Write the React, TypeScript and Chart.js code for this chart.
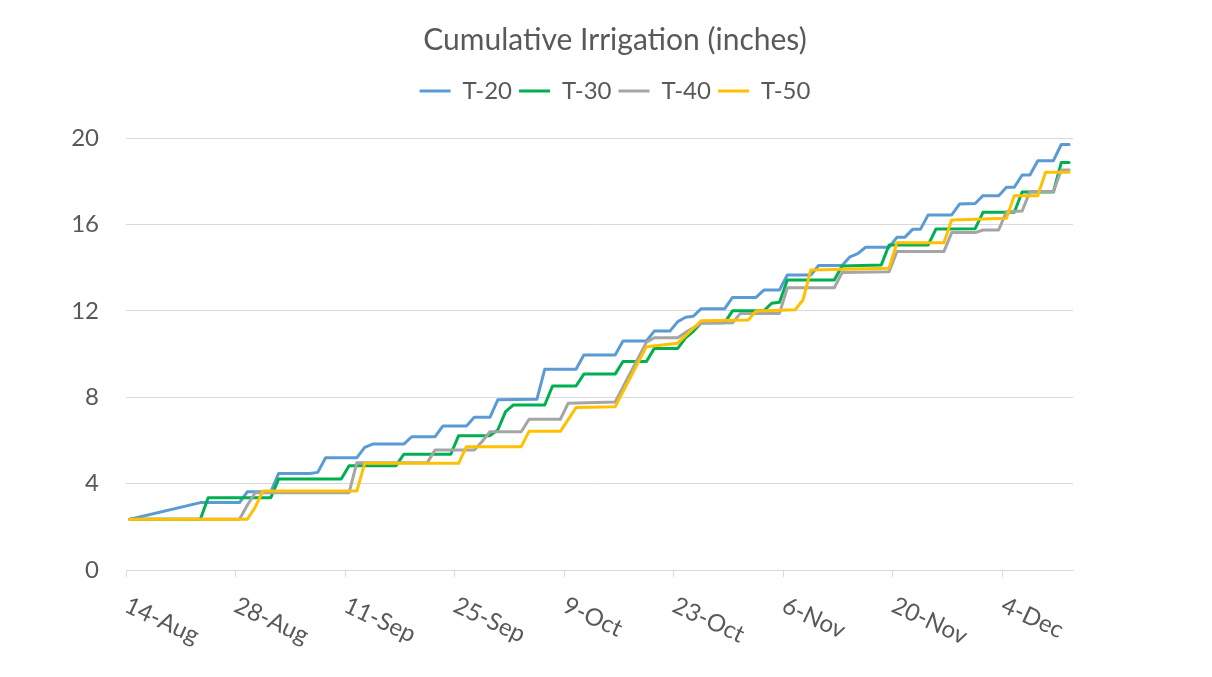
import React, { useEffect, useRef } from 'react';
import { Chart, registerables } from 'chart.js';

Chart.register(...registerables);

const chartTitle = 'Cumulative Irrigation (inches)';
const seriesNames = ['T-20', 'T-30', 'T-40', 'T-50'];
const seriesColors = ['#5B9BD5', '#00B050', '#A5A5A5', '#FFC000'];
const xTickLabels = ['14-Aug', '28-Aug', '11-Sep', '25-Sep', '9-Oct', '23-Oct', '6-Nov', '20-Nov', '4-Dec'];
const yTickStep = 4;

// days since 14-Aug
const t20Days = [0, 9, 14, 15, 18, 19, 23, 24, 25, 29, 30, 31, 35, 36, 39, 40, 43, 44, 46, 47, 52, 53, 57, 58, 62, 63, 66, 67, 69, 70, 71, 72, 73, 76, 77, 80, 81, 83, 84, 87, 88, 91, 92, 93, 94, 97, 98, 99, 100, 101, 102, 105, 106, 108, 109, 111, 112, 113, 114, 115, 116, 118, 119, 120];
const t20Values = [2.35, 3.12, 3.12, 3.62, 3.62, 4.47, 4.47, 4.52, 5.2, 5.2, 5.68, 5.83, 5.83, 6.17, 6.17, 6.67, 6.67, 7.07, 7.07, 7.88, 7.9, 9.29, 9.29, 9.95, 9.95, 10.6, 10.6, 11.06, 11.06, 11.5, 11.7, 11.75, 12.1, 12.1, 12.62, 12.62, 12.96, 12.96, 13.66, 13.66, 14.1, 14.1, 14.5, 14.65, 14.94, 14.94, 15.4, 15.4, 15.77, 15.77, 16.44, 16.44, 16.94, 16.97, 17.33, 17.33, 17.72, 17.72, 18.29, 18.29, 18.95, 18.95, 19.7, 19.7];

const t30Days = [0, 9, 10, 18, 19, 27, 28, 34, 35, 41, 42, 46, 47, 48, 49, 53, 54, 57, 58, 62, 63, 66, 67, 70, 71, 72, 73, 76, 77, 81, 82, 83, 84, 90, 91, 96, 97, 102, 103, 108, 109, 113, 114, 118, 119, 120];
const t30Values = [2.35, 2.35, 3.35, 3.35, 4.21, 4.21, 4.83, 4.83, 5.36, 5.36, 6.22, 6.22, 6.48, 7.33, 7.64, 7.64, 8.52, 8.52, 9.07, 9.07, 9.65, 9.65, 10.26, 10.26, 10.75, 11.05, 11.45, 11.45, 12.0, 12.0, 12.35, 12.4, 13.43, 13.43, 14.07, 14.12, 15.05, 15.05, 15.79, 15.8, 16.56, 16.56, 17.5, 17.5, 18.86, 18.86];

const t40Days = [0, 14, 15, 16, 28, 29, 38, 39, 44, 45, 46, 50, 51, 55, 56, 62, 66, 67, 70, 71, 73, 77, 78, 83, 84, 90, 91, 97, 98, 104, 105, 108, 109, 111, 112, 114, 115, 118, 119, 120];
const t40Values = [2.35, 2.35, 3.0, 3.58, 3.58, 4.97, 4.97, 5.56, 5.56, 5.95, 6.4, 6.4, 6.98, 6.98, 7.72, 7.78, 10.55, 10.75, 10.75, 11.0, 11.42, 11.45, 11.88, 11.88, 13.07, 13.07, 13.77, 13.81, 14.74, 14.74, 15.62, 15.62, 15.74, 15.74, 16.59, 16.62, 17.52, 17.52, 18.52, 18.52];

const t50Days = [0, 15, 16, 17, 29, 30, 42, 43, 50, 51, 55, 57, 62, 66, 70, 73, 79, 80, 85, 86, 87, 97, 98, 104, 105, 112, 113, 116, 117, 120];
const t50Values = [2.35, 2.35, 2.9, 3.66, 3.66, 4.94, 4.94, 5.71, 5.71, 6.42, 6.42, 7.52, 7.56, 10.34, 10.5, 11.54, 11.57, 11.99, 12.05, 12.5, 13.89, 13.97, 15.15, 15.15, 16.2, 16.28, 17.33, 17.33, 18.42, 18.42];

const seriesDays = [t20Days, t30Days, t40Days, t50Days];
const seriesValues = [t20Values, t30Values, t40Values, t50Values];

const TEXT_COLOR = '#595959';
const GRID_COLOR = '#d9d9d9';
const FONT = 'Lato';

const xLabelPlugin = {
  id: 'rotatedXLabels',
  afterDraw(chart: any) {
    const { ctx, chartArea } = chart;
    const xs = chart.scales.x;
    ctx.save();
    ctx.font = `24px ${FONT}`;
    ctx.fillStyle = TEXT_COLOR;
    ctx.textAlign = 'left';
    ctx.textBaseline = 'alphabetic';
    xs.ticks.forEach((t: any, i: number) => {
      const px = xs.getPixelForValue(t.value);
      ctx.save();
      ctx.translate(px - 3, chartArea.bottom + 41);
      ctx.rotate((25 * Math.PI) / 180);
      ctx.fillText(xTickLabels[i] ?? '', 0, 0);
      ctx.restore();
    });
    ctx.restore();
  },
};

export default function App() {
  const ref = useRef<HTMLCanvasElement>(null);

  useEffect(() => {
    if (!ref.current) return;
    Chart.defaults.font.family = FONT;
    const datasets = seriesNames.map((name, i) => ({
      label: name,
      data: seriesDays[i].map((d, j) => ({ x: d, y: seriesValues[i][j] })),
      borderColor: seriesColors[i],
      backgroundColor: seriesColors[i],
      borderWidth: 3,
      pointRadius: 0,
      pointHoverRadius: 0,
      tension: 0,
      fill: false,
      borderJoinStyle: 'round' as const,
      borderCapStyle: 'round' as const,
      order: seriesNames.length - 1 - i,
    }));

    const chart = new Chart(ref.current, {
      type: 'line',
      data: { datasets },
      plugins: [xLabelPlugin],
      options: {
        animation: false,
        responsive: false,
        maintainAspectRatio: false,
        devicePixelRatio: 1,
        layout: { padding: { left: 18, right: 0, top: 0, bottom: 0 } },
        plugins: {
          tooltip: { enabled: false },
          title: {
            display: true,
            text: chartTitle,
            color: TEXT_COLOR,
            font: { family: FONT, size: 30, weight: 'normal' },
            padding: { top: 22, bottom: 14 },
          },
          legend: {
            display: true,
            position: 'top',
            labels: {
              usePointStyle: true,
              pointStyle: 'line',
              pointStyleWidth: 31,
              color: TEXT_COLOR,
              font: { family: FONT, size: 24 },
              padding: 7,
              sort: (a: any, b: any) => a.datasetIndex - b.datasetIndex,
            },
          },
        },
        scales: {
          x: {
            type: 'linear',
            min: -0.5,
            max: 120.5,
            afterBuildTicks: (scale: any) => {
              scale.ticks = xTickLabels.map((_, i) => ({ value: -0.5 + 14 * i }));
            },
            ticks: { display: false },
            grid: {
              display: true,
              drawOnChartArea: false,
              drawTicks: true,
              tickLength: 7,
              color: GRID_COLOR,
            },
            border: { display: true, color: GRID_COLOR, width: 1 },
            afterFit: (scale: any) => {
              scale.height = 107;
            },
          },
          xt: {
            type: 'linear',
            position: 'top',
            display: true,
            ticks: { display: false },
            grid: { display: false },
            border: { display: false },
            afterFit: (scale: any) => {
              scale.height = 25;
            },
          },
          y: {
            type: 'linear',
            min: 0,
            max: 20,
            ticks: {
              stepSize: yTickStep,
              color: TEXT_COLOR,
              font: { family: FONT, size: 24 },
              padding: 27,
            },
            grid: { color: GRID_COLOR, drawTicks: false, lineWidth: 1 },
            border: { display: false },
            afterFit: (scale: any) => {
              scale.width = 108;
            },
          },
          yr: {
            type: 'linear',
            position: 'right',
            display: true,
            ticks: { display: false },
            grid: { display: false },
            border: { display: false },
            afterFit: (scale: any) => {
              scale.width = 139;
            },
          },
        },
      } as any,
    });
    return () => chart.destroy();
  }, []);

  return (
    <div
      style={{
        position: 'absolute',
        left: 0,
        top: 0,
        width: 1212,
        height: 677,
        background: '#ffffff',
        overflow: 'hidden',
      }}
    >
      <canvas ref={ref} width={1212} height={677} style={{ display: 'block' }} />
    </div>
  );
}
